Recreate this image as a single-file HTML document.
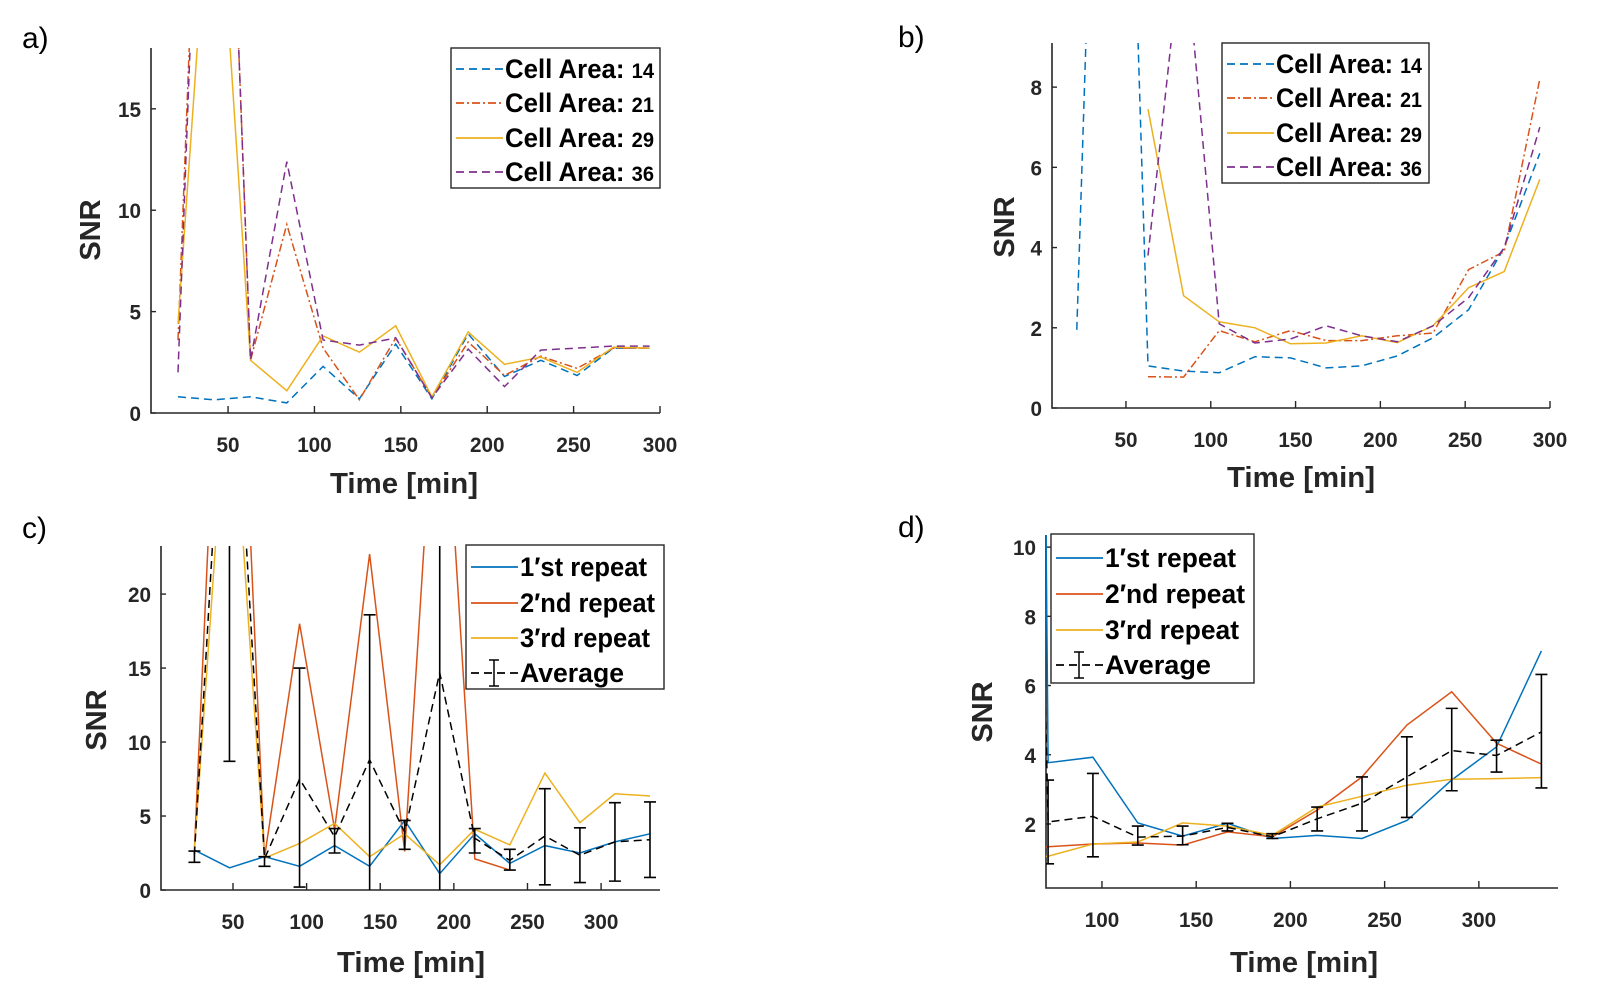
<!DOCTYPE html>
<html><head><meta charset="utf-8"><style>
html,body{margin:0;padding:0;background:#fff;}
svg{display:block;}
.tk{font-family:"Liberation Sans Narrow","Liberation Sans",sans-serif;font-weight:bold;font-size:21px;fill:#262626;}
.lg{font-family:"Liberation Sans Narrow","Liberation Sans",sans-serif;font-weight:bold;font-size:27px;fill:#000;}
.ax{font-family:"Liberation Sans Narrow","Liberation Sans",sans-serif;font-weight:bold;font-size:29px;fill:#262626;}
.snr{font-family:"Liberation Sans",sans-serif;font-weight:bold;font-size:29px;fill:#262626;}
.pl{font-family:"Liberation Sans Narrow","Liberation Sans",sans-serif;font-size:30px;fill:#000;}
</style></head><body>
<svg id="fig" width="1614" height="981" viewBox="0 0 1614 981" xmlns="http://www.w3.org/2000/svg"></svg>
<script>
// ---- data ----
const xA = [21,42,63,84,105,126,147,168,189,210,231,252,273,294];
const aArea14 = [0.8,0.65,0.8,0.5,2.3,0.7,3.4,0.7,3.9,1.8,2.6,1.85,3.2,3.2];
const aArea21 = [3.6,50,2.6,9.3,3.2,0.65,3.7,0.75,3.5,1.85,2.8,2.2,3.2,3.2];
const aArea29 = [4.4,30,2.6,1.1,3.8,3.0,4.3,0.8,4.0,2.4,2.75,2.0,3.25,3.2];
const aArea36 = [2.0,50,2.6,12.4,3.6,3.35,3.7,0.75,3.15,1.3,3.1,3.2,3.3,3.3];
const aTicksX = [50,100,150,200,250,300];
const aTicksY = [0,5,10,15];

const xB = [21,42,63,84,105,126,147,168,189,210,231,252,273,294];
const bArea14 = [1.95,30,1.05,0.92,0.88,1.28,1.25,1.0,1.05,1.3,1.75,2.45,4.0,6.35];
const bArea21 = [null,null,0.78,0.77,1.93,1.65,1.93,1.68,1.68,1.8,1.87,3.45,3.9,8.2];
const bArea29 = [null,null,7.45,2.8,2.15,2.0,1.6,1.62,1.8,1.63,2.05,3.0,3.4,5.7];
const bArea36 = [null,null,3.8,12,2.1,1.62,1.72,2.05,1.8,1.65,2.05,2.75,4.0,7.0];
const bTicksX = [50,100,150,200,250,300];
const bTicksY = [0,2,4,6,8];

const xC = [23.8,47.6,71.4,95.2,119,142.8,166.6,190.4,214.2,238,261.8,285.6,309.4,333.2];
const cRep1 = [2.7,1.5,2.25,1.6,3.0,1.6,4.7,1.1,3.8,1.8,3.0,2.5,3.25,3.8];
const cRep2 = [2.7,56,2.2,18.0,4.1,22.7,2.6,40,2.1,1.35,null,null,null,null];
const cRep3 = [2.7,37,2.15,3.15,4.5,2.25,3.8,1.7,4.1,3.05,7.9,4.55,6.5,6.35];
const cAvg = [2.4,43,2.1,7.5,3.6,8.8,3.9,14.7,3.5,2.0,3.65,2.35,3.25,3.4];
const cLo = [1.87,8.7,1.6,0.2,2.5,-1,2.75,-5,2.5,1.35,0.35,0.5,0.6,0.85];
const cHi = [2.63,80,2.25,15.0,4.15,18.6,4.7,40,4.15,2.75,6.85,4.2,5.9,5.95];
const cTicksX = [50,100,150,200,250,300];
const cTicksY = [0,5,10,15,20];

const xD = [23.8,47.6,71.4,95.2,119,142.8,166.6,190.4,214.2,238,261.8,285.6,309.4,333.2];
const dRep1 = [150,150,3.77,3.93,2.03,1.65,2.02,1.58,1.67,1.58,2.1,3.27,4.23,7.0];
const dRep2 = [1.3,1.3,1.34,1.42,1.45,1.39,1.77,1.63,2.4,3.36,4.86,5.82,4.33,3.73];
const dRep3 = [1.0,1.0,1.07,1.42,1.48,2.03,1.94,1.67,2.49,2.8,3.12,3.29,3.31,3.34];
const dAvg = [60,60,2.06,2.22,1.62,1.65,1.9,1.63,2.15,2.6,3.36,4.12,3.98,4.66];
const dLo = [null,null,0.85,1.05,1.39,1.40,1.8,1.58,1.8,1.8,2.19,2.96,3.5,3.04];
const dHi = [null,null,3.27,3.46,1.94,1.94,2.02,1.72,2.49,3.36,4.52,5.34,4.42,6.32];
const dTicksX = [100,150,200,250,300];
const dTicksY = [2,4,6,8,10];

const BLUE='#0072BD', ORANGE='#D95319', YELLOW='#EDB120', PURPLE='#7E2F8E';
const NS='http://www.w3.org/2000/svg';
const svg=document.getElementById('fig');
function mk(tag,attrs,parent){const e=document.createElementNS(NS,tag);for(const k in attrs)e.setAttribute(k,attrs[k]);(parent||svg).appendChild(e);return e;}

function panel(p){
  const g=mk('g',{});
  
  
  const sx=v=>p.L+(v-p.xmin)/(p.xmax-p.xmin)*(p.R-p.L);
  const sy=v=>p.B-(v-p.ymin)/(p.ymax-p.ymin)*(p.B-p.T);
  const cp=mk('clipPath',{id:'clip-'+p.id},g);
  mk('rect',{x:p.L,y:p.T,width:p.R-p.L,height:p.B-p.T},cp);
  const ax=mk('path',{d:`M${p.L},${p.T}V${p.B}H${p.R}`,stroke:'#262626','stroke-width':1.6,fill:'none'},g);
  
  
  p.tx.forEach(t=>{
    const x=sx(t);
    mk('line',{x1:x,x2:x,y1:p.B,y2:p.B-7,stroke:'#262626','stroke-width':1.4},g);
    const tt=mk('text',{x:x,y:p.B+39,'text-anchor':'middle',class:'tk',textLength:String(t).length*11.5,lengthAdjust:'spacingAndGlyphs'},g);tt.textContent=t;
    
    
  });
  p.ty.forEach(t=>{
    const y=sy(t);
    mk('line',{x1:p.L,x2:p.L+5,y1:y,y2:y,stroke:'#262626','stroke-width':1.4},g);
    const tt=mk('text',{x:p.L-10,y:y+8,'text-anchor':'end',class:'tk',textLength:String(t).length*11.5,lengthAdjust:'spacingAndGlyphs'},g);tt.textContent=t;
    
    
  });
  const cg=mk('g',{'clip-path':`url(#clip-${p.id})`},g);
  p.series.forEach(s=>{
    let d='',pen=false;
    s.y.forEach((v,i)=>{ if(v==null){pen=false;return;} d+=(pen?'L':'M')+sx(p.x[i]).toFixed(1)+','+sy(v).toFixed(1); pen=true;});
    const path=mk('path',{d:d,stroke:s.c,'stroke-width':s.w||1.5,fill:'none','stroke-dasharray':s.dash||'none'},cg);
    
    
    if(s.lo){
      s.y.forEach((v,i)=>{
        if(s.lo[i]==null)return;
        const x=sx(p.x[i]),y1=sy(s.lo[i]),y2=sy(s.hi[i]);
        const eb=mk('path',{d:`M${x},${y1}V${y2}M${x-6},${y1}H${x+6}M${x-6},${y2}H${x+6}`,stroke:'#000','stroke-width':1.6,fill:'none'},cg);
        
        
      });
    }
  });
  const pl=mk('text',{x:p.lab[0],y:p.lab[1],class:'pl'},g);pl.textContent=p.id+')';
  
  
  const yl=mk('text',{x:0,y:0,class:'snr','text-anchor':'middle',transform:`translate(${p.yl[0]},${p.yl[1]}) rotate(-90)`},g);yl.textContent='SNR';
  
  
  const xl=mk('text',{x:p.xl[0],y:p.xl[1],class:'ax','text-anchor':'middle',textLength:148,lengthAdjust:'spacingAndGlyphs'},g);xl.textContent='Time [min]';
  
  
  const lb=p.leg;
  const lg=mk('g',{},g);
  
  
  mk('rect',{x:lb.x,y:lb.y,width:lb.w,height:lb.h,fill:'#fff',stroke:'#262626','stroke-width':1.4},lg);
  p.series.forEach((s,i)=>{
    const y=lb.rows[i];
    mk('line',{x1:lb.x+5,x2:lb.x+52,y1:y,y2:y,stroke:s.c,'stroke-width':s.w||1.8,'stroke-dasharray':s.dash||'none'},lg);
    if(s.lo){const cx=lb.x+28;mk('path',{d:`M${cx},${y-13}V${y+13}M${cx-5},${y-13}H${cx+5}M${cx-5},${y+13}H${cx+5}`,stroke:'#000','stroke-width':1.5,fill:'none'},lg);}
    const t=mk('text',{x:lb.x+54,y:y+9,class:'lg',textLength:lb.tw[i],lengthAdjust:'spacingAndGlyphs'},lg);
    
    
    if(s.num){t.textContent=s.label;const ts=mk('tspan',{'font-size':'21'},t);ts.textContent=s.num;}
    else t.textContent=s.label;
  });
}

panel({id:'a',L:151,R:660,T:48,B:413,xmin:5.4,xmax:300,ymin:0,ymax:18,x:xA,tx:aTicksX,ty:aTicksY,
  lab:[22,48],yl:[100,230],xl:[404,493],
  leg:{x:451,y:48,w:209,h:140,rows:[69,103,138,172],tw:[149,149,149,149]},
  series:[
   {name:'cell-area-14',y:aArea14,c:BLUE,dash:'8,5',label:'Cell Area: ',num:'14'},
   {name:'cell-area-21',y:aArea21,c:ORANGE,dash:'8,3,2,3',label:'Cell Area: ',num:'21'},
   {name:'cell-area-29',y:aArea29,c:YELLOW,label:'Cell Area: ',num:'29'},
   {name:'cell-area-36',y:aArea36,c:PURPLE,dash:'8,5',label:'Cell Area: ',num:'36'}]});

panel({id:'b',L:1052,R:1550,T:43,B:408,xmin:6.4,xmax:300,ymin:0,ymax:9.1,x:xB,tx:bTicksX,ty:bTicksY,
  lab:[898,47],yl:[1014,227],xl:[1301,487],
  leg:{x:1222,y:43,w:207,h:140,rows:[64,98,133,167],tw:[146,146,146,146]},
  series:[
   {name:'cell-area-14',y:bArea14,c:BLUE,dash:'8,5',label:'Cell Area: ',num:'14'},
   {name:'cell-area-21',y:bArea21,c:ORANGE,dash:'8,3,2,3',label:'Cell Area: ',num:'21'},
   {name:'cell-area-29',y:bArea29,c:YELLOW,label:'Cell Area: ',num:'29'},
   {name:'cell-area-36',y:bArea36,c:PURPLE,dash:'8,5',label:'Cell Area: ',num:'36'}]});

panel({id:'c',L:161,R:660,T:546,B:890,xmin:1.1,xmax:340,ymin:0,ymax:23.25,x:xC,tx:cTicksX,ty:cTicksY,
  lab:[22,538],yl:[106,720],xl:[411,972],
  leg:{x:466,y:545,w:198,h:144,rows:[567,603,638,673],tw:[127,135,130,104]},
  series:[
   {name:'repeat-1',y:cRep1,c:BLUE,label:'1′st repeat'},
   {name:'repeat-2',y:cRep2,c:ORANGE,label:'2′nd repeat'},
   {name:'repeat-3',y:cRep3,c:YELLOW,label:'3′rd repeat'},
   {name:'average',y:cAvg,c:'#000',dash:'8,5',lo:cLo,hi:cHi,label:'Average'}]});

panel({id:'d',L:1046,R:1558,T:535,B:888,xmin:70.3,xmax:342,ymin:0.15,ymax:10.35,x:xD,tx:dTicksX,ty:dTicksY,
  lab:[898,537],yl:[992,712],xl:[1304,972],
  leg:{x:1051,y:534,w:203,h:149,rows:[558,594,630,665],tw:[131,140,134,106]},
  series:[
   {name:'repeat-1',y:dRep1,c:BLUE,label:'1′st repeat'},
   {name:'repeat-2',y:dRep2,c:ORANGE,label:'2′nd repeat'},
   {name:'repeat-3',y:dRep3,c:YELLOW,label:'3′rd repeat'},
   {name:'average',y:dAvg,c:'#000',dash:'8,5',lo:dLo,hi:dHi,label:'Average'}]});
</script>
</body></html>
